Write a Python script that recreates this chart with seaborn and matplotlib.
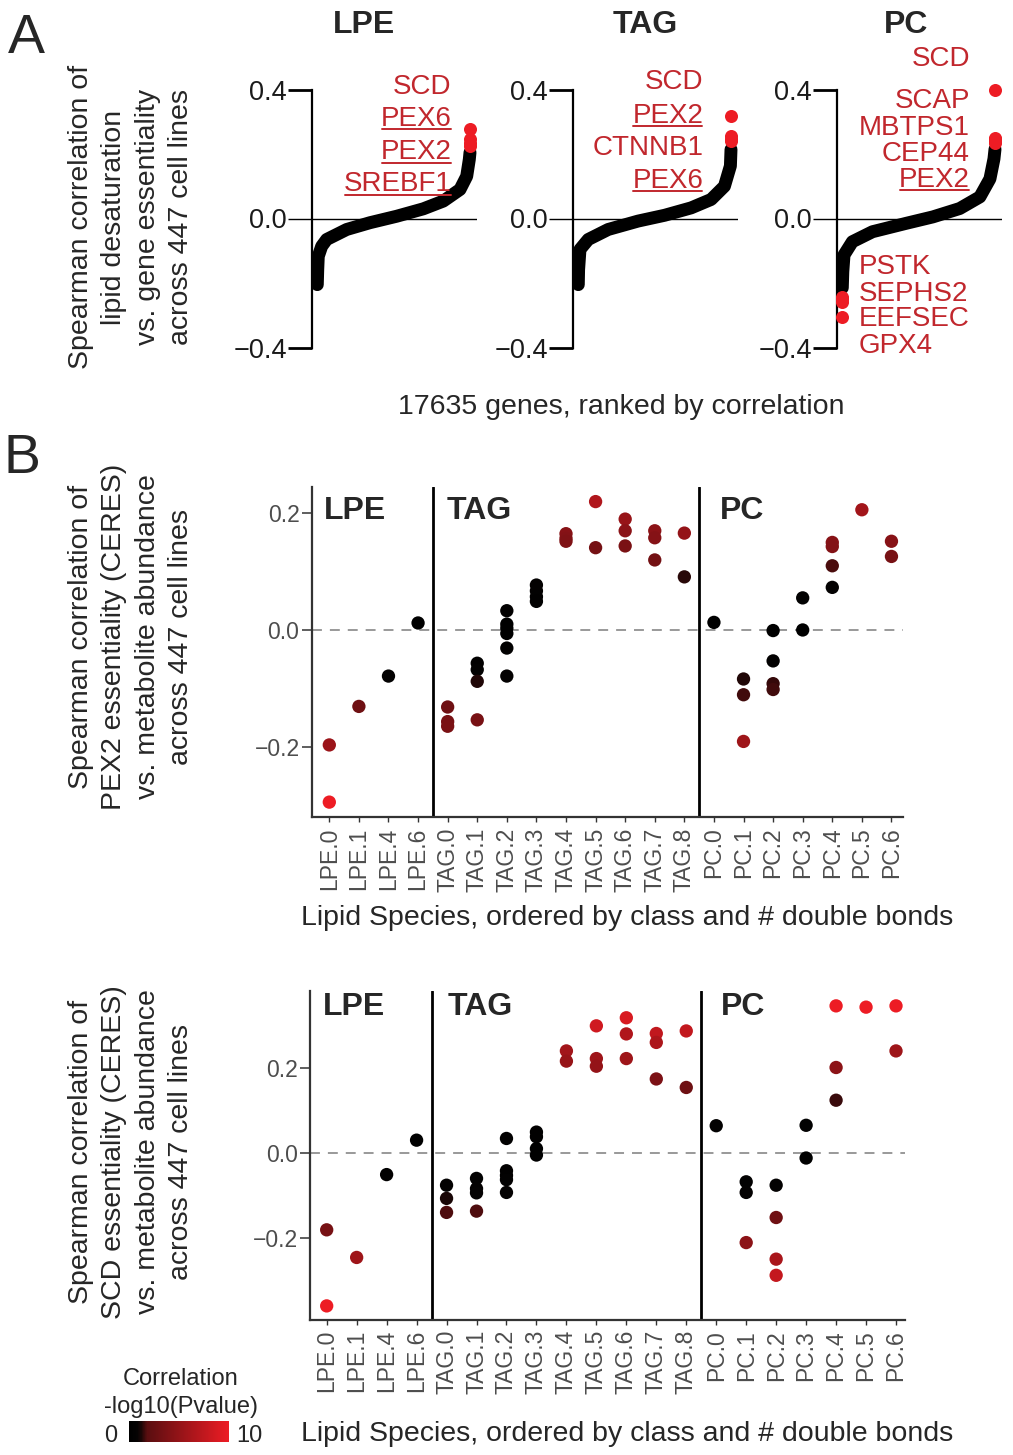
import matplotlib
matplotlib.use('Agg')
import matplotlib.pyplot as plt
import numpy as np
import pandas as pd
import seaborn as sns
from matplotlib.colors import LinearSegmentedColormap, Normalize
from matplotlib.cm import ScalarMappable
from matplotlib.lines import Line2D
from matplotlib.transforms import blended_transform_factory

# ======================= DATA: panel A =======================
lpe_rank = [1, 50, 116, 510, 1086, 3396, 6086, 9170, 12242, 14551, 16480, 17254, 17554, 17635]
lpe_corr = [-0.205, -0.159, -0.117, -0.086, -0.065, -0.034, -0.013, 0.007, 0.030, 0.054, 0.090, 0.131, 0.183, 0.205]
tag_rank = [1, 35, 195, 1151, 3452, 6903, 9974, 13034, 15335, 16876, 17566, 17635]
tag_corr = [-0.205, -0.159, -0.096, -0.065, -0.034, -0.008, 0.010, 0.033, 0.059, 0.100, 0.163, 0.214]
pc_rank = [1, 60, 200, 1163, 3488, 7370, 10463, 13563, 15888, 17050, 17515, 17635]
pc_corr = [-0.215, -0.165, -0.113, -0.072, -0.041, -0.015, 0.005, 0.031, 0.067, 0.123, 0.185, 0.215]

lpe_hit_genes = ['SCD', 'PEX6', 'PEX2', 'SREBF1']
lpe_hit_rank = [17635, 17634, 17633, 17632]
lpe_hit_corr = [0.277, 0.245, 0.235, 0.225]
tag_hit_genes = ['SCD', 'PEX2', 'CTNNB1', 'PEX6']
tag_hit_rank = [17635, 17634, 17633, 17632]
tag_hit_corr = [0.318, 0.256, 0.247, 0.240]
pc_hit_genes = ['SCD', 'SCAP', 'MBTPS1', 'CEP44', 'PEX2', 'PSTK', 'SEPHS2', 'EEFSEC', 'GPX4']
pc_hit_rank = [17635, 17634, 17633, 17632, 17631, 4, 3, 2, 1]
pc_hit_corr = [0.398, 0.251, 0.245, 0.240, 0.235, -0.243, -0.250, -0.259, -0.306]

# ======================= DATA: panel B =======================
species_order = ['LPE.0', 'LPE.1', 'LPE.4', 'LPE.6',
                 'TAG.0', 'TAG.1', 'TAG.2', 'TAG.3', 'TAG.4', 'TAG.5', 'TAG.6', 'TAG.7', 'TAG.8',
                 'PC.0', 'PC.1', 'PC.2', 'PC.3', 'PC.4', 'PC.5', 'PC.6']

pex2_species = ['LPE.0', 'LPE.0', 'LPE.1', 'LPE.4', 'LPE.6',
                'TAG.0', 'TAG.0', 'TAG.0',
                'TAG.1', 'TAG.1', 'TAG.1', 'TAG.1',
                'TAG.2', 'TAG.2', 'TAG.2', 'TAG.2', 'TAG.2', 'TAG.2',
                'TAG.3', 'TAG.3', 'TAG.3', 'TAG.3',
                'TAG.4', 'TAG.4', 'TAG.4',
                'TAG.5', 'TAG.5',
                'TAG.6', 'TAG.6', 'TAG.6',
                'TAG.7', 'TAG.7', 'TAG.7',
                'TAG.8', 'TAG.8',
                'PC.0',
                'PC.1', 'PC.1', 'PC.1',
                'PC.2', 'PC.2', 'PC.2', 'PC.2',
                'PC.3', 'PC.3',
                'PC.4', 'PC.4', 'PC.4', 'PC.4',
                'PC.5',
                'PC.6', 'PC.6']
pex2_corr = [-0.197, -0.295, -0.131, -0.079, 0.012,
             -0.132, -0.157, -0.165,
             -0.057, -0.068, -0.088, -0.154,
             0.033, 0.010, 0.003, -0.006, -0.031, -0.079,
             0.077, 0.067, 0.057, 0.049,
             0.165, 0.157, 0.152,
             0.220, 0.141,
             0.190, 0.170, 0.144,
             0.170, 0.158, 0.120,
             0.166, 0.091,
             0.013,
             -0.084, -0.111, -0.191,
             -0.001, -0.053, -0.092, -0.102,
             0.055, 0.000,
             0.150, 0.143, 0.110, 0.073,
             0.206,
             0.152, 0.126]
pex2_nlogp = [5.4, 10.0, 3.0, 0.5, 0.1,
              3.0, 3.5, 3.6,
              0.4, 0.5, 1.25, 3.5,
              0.3, 0.1, 0.0, 0.1, 0.3, 0.6,
              0.7, 0.6, 0.5, 0.4,
              4.3, 4.1, 3.9,
              6.6, 3.3,
              5.2, 4.5, 3.6,
              4.6, 4.2, 3.2,
              5.0, 1.35,
              0.1,
              1.25, 1.6, 5.6,
              0.0, 0.4, 1.45, 1.6,
              0.5, 0.0,
              4.3, 4.1, 1.65, 0.6,
              5.8,
              4.3, 3.4]

scd_species = ['LPE.0', 'LPE.0', 'LPE.1', 'LPE.4', 'LPE.6',
               'TAG.0', 'TAG.0', 'TAG.0',
               'TAG.1', 'TAG.1', 'TAG.1', 'TAG.1',
               'TAG.2', 'TAG.2', 'TAG.2', 'TAG.2', 'TAG.2',
               'TAG.3', 'TAG.3', 'TAG.3', 'TAG.3',
               'TAG.4', 'TAG.4',
               'TAG.5', 'TAG.5', 'TAG.5',
               'TAG.6', 'TAG.6', 'TAG.6',
               'TAG.7', 'TAG.7', 'TAG.7',
               'TAG.8', 'TAG.8',
               'PC.0',
               'PC.1', 'PC.1', 'PC.1',
               'PC.2', 'PC.2', 'PC.2', 'PC.2',
               'PC.3', 'PC.3',
               'PC.4', 'PC.4', 'PC.4',
               'PC.5',
               'PC.6', 'PC.6']
scd_corr = [-0.181, -0.360, -0.246, -0.051, 0.030,
            -0.076, -0.107, -0.140,
            -0.060, -0.084, -0.094, -0.137,
            0.034, -0.042, -0.053, -0.063, -0.093,
            0.049, 0.038, 0.010, -0.005,
            0.240, 0.216,
            0.299, 0.222, 0.204,
            0.318, 0.280, 0.222,
            0.281, 0.260, 0.174,
            0.287, 0.154,
            0.064,
            -0.068, -0.093, -0.211,
            -0.076, -0.152, -0.250, -0.288,
            0.065, -0.012,
            0.346, 0.201, 0.124,
            0.343,
            0.346, 0.240]
scd_nlogp = [3.4, 10.0, 5.6, 0.4, 0.2,
             0.6, 1.2, 1.7,
             0.5, 0.7, 0.8, 1.7,
             0.3, 0.3, 0.4, 0.5, 0.8,
             0.4, 0.3, 0.1, 0.0,
             5.8, 5.2,
             8.3, 5.6, 5.0,
             8.8, 6.6, 5.6,
             7.5, 6.4, 3.7,
             7.6, 2.9,
             0.5,
             0.5, 0.7, 4.6,
             0.6, 3.0, 6.2, 7.7,
             0.5, 0.1,
             10.0, 4.6, 1.5,
             10.0,
             10.0, 5.6]

cbar_ticklabels = ['0', '10']
cbar_range = (0, 10)

# ======================= STYLE / LAYOUT =======================
sns.set_style('white')
plt.rcParams['font.family'] = ['Liberation Sans', 'DejaVu Sans']
plt.rcParams['axes.unicode_minus'] = True

W, H = 1013, 1455
fig = plt.figure(figsize=(W / 100, H / 100), dpi=100)

def px_axes(left, top, right, bottom):
    return fig.add_axes([left / W, 1 - bottom / H, (right - left) / W, (bottom - top) / H])

def ftext(x, y, s, **kw):
    return fig.text(x / W, 1 - y / H, s, **kw)

gene_red = '#C1272D'
dot_red = '#ED1C24'
cmap = LinearSegmentedColormap.from_list(
    'blkred', [(0.0, '#000000'), (0.08, '#050303'), (0.12, '#1a0606'),
               (0.18, '#5a0e10'), (1.0, '#ED1C24')])

XL = (-611, 18443)
underlined = []

def panel_a(left, ranks, corr, hit_ranks, hit_corr, title, title_x, labels):
    ax = px_axes(left, 89.5, left + 165, 347.5)
    df = pd.DataFrame({'rank': ranks, 'corr': corr})
    sns.lineplot(data=df, x='rank', y='corr', ax=ax, color='black', linewidth=9.3,
                 solid_capstyle='round', solid_joinstyle='round', sort=False, zorder=2)
    hdf = pd.DataFrame({'rank': hit_ranks, 'corr': hit_corr})
    sns.scatterplot(data=hdf, x='rank', y='corr', ax=ax, color=dot_red, s=88,
                    linewidth=0, zorder=3, clip_on=False, legend=False)
    ax.set_xlim(*XL)
    ax.set_ylim(-0.4, 0.4)
    ax.axhline(0, color='black', lw=1.0, zorder=1)
    for s in ['top', 'right', 'bottom']:
        ax.spines[s].set_visible(False)
    ax.spines['left'].set_color('black')
    ax.spines['left'].set_linewidth(1.6)
    ax.set_xticks([])
    ax.set_yticks([-0.4, 0.4])
    ax.set_yticklabels(['\u22120.4', '0.4'])
    ax.set_yticks([0.0], minor=True)
    ax.set_yticklabels(['0.0'], minor=True)
    ax.tick_params(axis='y', which='major', left=True, length=17, width=2.0, labelsize=19.5,
                   pad=1, colors='black', labelcolor='#1a1a1a')
    ax.tick_params(axis='y', which='minor', left=True, length=17, width=1.0, labelsize=19.5,
                   pad=1, colors='black', labelcolor='#1a1a1a')
    ax.set_xlabel('')
    ax.set_ylabel('')
    ftext(title_x, 33, title, ha='center', va='baseline', fontsize=23, fontweight='bold')
    for (g, xr, yv, ha, ul) in labels:
        t = ax.text(xr, yv, g, ha=ha, va='baseline', fontsize=20, color=gene_red, clip_on=False)
        if ul:
            underlined.append((ax, t, xr, yv))
    return ax

panel_a(312, lpe_rank, lpe_corr, lpe_hit_rank, lpe_hit_corr, 'LPE', 364,
        [('SCD', 15522, 0.385, 'right', False), ('PEX6', 15522, 0.287, 'right', True),
         ('PEX2', 15522, 0.183, 'right', True), ('SREBF1', 15522, 0.085, 'right', True)])
panel_a(573, tag_rank, tag_corr, tag_hit_rank, tag_hit_corr, 'TAG', 645.5,
        [('SCD', 14436, 0.401, 'right', False), ('PEX2', 14436, 0.297, 'right', True),
         ('CTNNB1', 14436, 0.196, 'right', False), ('PEX6', 14436, 0.095, 'right', True)])
panel_a(837, pc_rank, pc_corr, pc_hit_rank, pc_hit_corr, 'PC', 906.5,
        [('SCD', 14748, 0.472, 'right', False), ('SCAP', 14748, 0.343, 'right', False),
         ('MBTPS1', 14748, 0.260, 'right', False), ('CEP44', 14748, 0.179, 'right', False),
         ('PEX2', 14748, 0.099, 'right', True),
         ('PSTK', 1895, -0.171, 'left', False), ('SEPHS2', 1895, -0.255, 'left', False),
         ('EEFSEC', 1895, -0.333, 'left', False), ('GPX4', 1895, -0.416, 'left', False)])

ftext(131, 217, 'Spearman correlation of\nlipid desaturation\nvs. gene essentiality\nacross 447 cell lines',
      rotation=90, ha='center', va='center', multialignment='center', fontsize=20.5, linespacing=1.38)
ftext(621.5, 414, '17635 genes, ranked by correlation', ha='center', va='baseline', fontsize=20.5)
ftext(8, 53, 'A', ha='left', va='baseline', fontsize=40)
ftext(3, 473, 'B', ha='left', va='baseline', fontsize=40)

# ======================= panel B =======================
def panel_b(box, species, corr, nlogp, ylim, xlim, cls_x, cls_y, ylab, ylab_y, xlab_y):
    ax = px_axes(*box)
    df = pd.DataFrame({'species': species, 'corr': corr, 'nlogp': nlogp})
    df['pos'] = df['species'].map({s: i for i, s in enumerate(species_order)})
    ax.axhline(0, color='#999999', lw=1.4, ls=(0, (5.1, 4.1)), zorder=1)
    ax.axvline(3.5, color='black', lw=2.0, zorder=1)
    ax.axvline(12.5, color='black', lw=2.0, zorder=1)
    sns.scatterplot(data=df, x='pos', y='corr', hue='nlogp', palette=cmap, hue_norm=cbar_range,
                    s=92, linewidth=0, legend=False, ax=ax, clip_on=False, zorder=3)
    ax.set_xlim(*xlim)
    ax.set_ylim(*ylim)
    for s in ['top', 'right']:
        ax.spines[s].set_visible(False)
    for s in ['left', 'bottom']:
        ax.spines[s].set_color('#333333')
        ax.spines[s].set_linewidth(1.6)
    ax.set_yticks([-0.2, 0.0, 0.2])
    ax.set_yticklabels(['\u22120.2', '0.0', '0.2'])
    ax.set_xticks(range(len(species_order)))
    ax.set_xticklabels(species_order, rotation=90)
    ax.tick_params(axis='y', length=7, width=1.1, colors='#333333', labelcolor='#4d4d4d',
                   labelsize=16.5, pad=2, left=True)
    ax.tick_params(axis='x', length=3.5, width=1.0, colors='#333333', labelcolor='#4d4d4d',
                   labelsize=16.5, pad=4, bottom=True)
    ax.set_xlabel('')
    ax.set_ylabel('')
    tr = blended_transform_factory(ax.transData, ax.transAxes)
    for name, xx in zip(['LPE', 'TAG', 'PC'], cls_x):
        ax.text(xx, cls_y, name, transform=tr, ha='left', va='baseline', fontsize=23, fontweight='bold')
    ftext(131, ylab_y, ylab, rotation=90, ha='center', va='center', multialignment='center',
          fontsize=20.5, linespacing=1.38)
    ftext(627, xlab_y, 'Lipid Species, ordered by class and # double bonds',
          ha='center', va='baseline', fontsize=20.5)
    return ax

panel_b((312, 487, 903, 817), pex2_species, pex2_corr, pex2_nlogp,
        (-0.3205, 0.245), (-0.585, 19.39), [-0.2, 3.98, 13.2], 0.902,
        'Spearman correlation of\nPEX2 essentiality (CERES)\nvs. metabolite abundance\nacross 447 cell lines',
        637, 925)
panel_b((310, 991, 905, 1319.5), scd_species, scd_corr, scd_nlogp,
        (-0.392, 0.381), (-0.557, 19.3), [-0.13, 4.02, 13.14], 0.927,
        'Spearman correlation of\nSCD essentiality (CERES)\nvs. metabolite abundance\nacross 447 cell lines',
        1152, 1441)

# ======================= colorbar =======================
cax = px_axes(129, 1421, 229, 1442)
sm = ScalarMappable(norm=Normalize(*cbar_range), cmap=cmap)
cb = fig.colorbar(sm, cax=cax, orientation='horizontal')
cb.set_ticks([])
cb.outline.set_visible(False)
ftext(111, 1442, cbar_ticklabels[0], ha='center', va='baseline', fontsize=17)
ftext(249, 1442, cbar_ticklabels[1], ha='center', va='baseline', fontsize=17)
ftext(181, 1385, 'Correlation', ha='center', va='baseline', fontsize=17)
ftext(181, 1413, '-log10(Pvalue)', ha='center', va='baseline', fontsize=17)

# ======================= underlines =======================
fig.canvas.draw()
rend = fig.canvas.get_renderer()
inv = fig.transFigure.inverted()
for ax, t, xr, yv in underlined:
    bb = t.get_window_extent(rend)
    yb = ax.transData.transform((xr, yv))[1] - 3.5
    p = inv.transform([(bb.x0 + 1, yb), (bb.x1 - 1, yb)])
    fig.add_artist(Line2D([p[0][0], p[1][0]], [p[0][1], p[1][1]], transform=fig.transFigure,
                          color=gene_red, lw=1.4))

fig.savefig('out.png', dpi=100)
